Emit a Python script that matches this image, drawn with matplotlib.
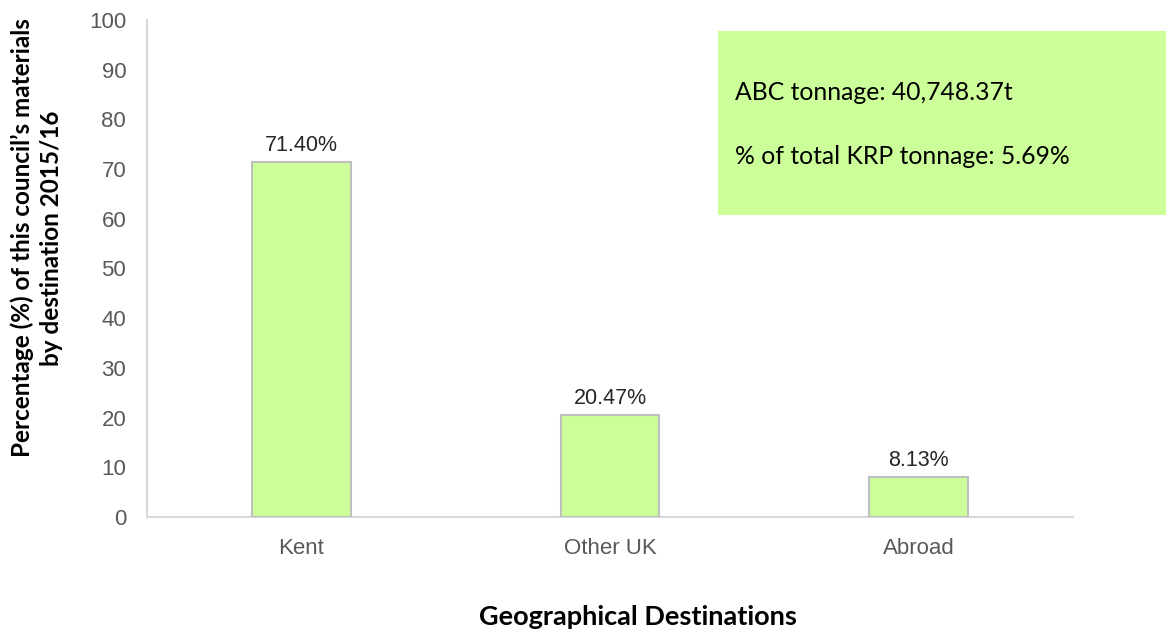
import matplotlib
matplotlib.use("Agg")
import matplotlib.pyplot as plt
from matplotlib.patches import Rectangle

# data
destinos = ["Kent", "Other UK", "Abroad"]
percentuais = [71.40, 20.47, 8.13]
rotulos = ["71.40%", "20.47%", "8.13%"]
y_ticks = [0, 10, 20, 30, 40, 50, 60, 70, 80, 90, 100]
caixa_linhas = ["ABC tonnage: 40,748.37t", "% of total KRP tonnage: 5.69%"]

verde = "#CCFF99"

fig = plt.figure(figsize=(11.66, 6.35), dpi=100)
ax = fig.add_axes([147 / 1166, 1 - 517 / 635, (1073 - 147) / 1166, (517 - 20) / 635])

x = range(len(destinos))
ax.bar(x, percentuais, width=0.32, color=verde, edgecolor="#BFBFBF", linewidth=1.5, zorder=3)

for xi, v, r in zip(x, percentuais, rotulos):
    ax.text(xi, v + 1.2, r, ha="center", va="bottom", fontsize=15.5,
            family="Liberation Sans", color="#262626")

ax.set_xlim(-0.5, 2.5)
ax.set_ylim(0, 100)
ax.set_yticks(y_ticks)
ax.set_xticks(list(x))
ax.set_xticklabels(destinos)
ax.tick_params(length=0, labelsize=16, labelcolor="#595959")
ax.tick_params(axis="x", pad=15)
ax.tick_params(axis="y", pad=15)
for lab in ax.get_xticklabels() + ax.get_yticklabels():
    lab.set_family("Liberation Sans")

for s in ["top", "right"]:
    ax.spines[s].set_visible(False)
for s in ["left", "bottom"]:
    ax.spines[s].set_color("#D9D9D9")
    ax.spines[s].set_linewidth(1.5)

fig.text(37 / 1166, 1 - 238 / 635, "Percentage (%) of this council\u2019s materials\nby destination 2015/16",
         rotation=90, ha="center", va="center", fontsize=17.5, fontweight="bold",
         family="Lato", linespacing=1.3)
fig.text(638 / 1166, 1 - 617 / 635, "Geographical Destinations", ha="center", va="center",
         fontsize=19.5, fontweight="bold", family="Lato")

# caixa de texto verde
fig.patches.append(Rectangle((718 / 1166, 1 - 215 / 635), (1166 - 718) / 1166, (215 - 31) / 635,
                             transform=fig.transFigure, facecolor=verde, edgecolor="none", zorder=5))
fig.text(735 / 1166, 1 - 92 / 635, caixa_linhas[0], ha="left", va="center", fontsize=17.8, family="Lato", zorder=6)
fig.text(735 / 1166, 1 - 157 / 635, caixa_linhas[1], ha="left", va="center", fontsize=17.8, family="Lato", zorder=6)

fig.savefig("out.png", dpi=100)
